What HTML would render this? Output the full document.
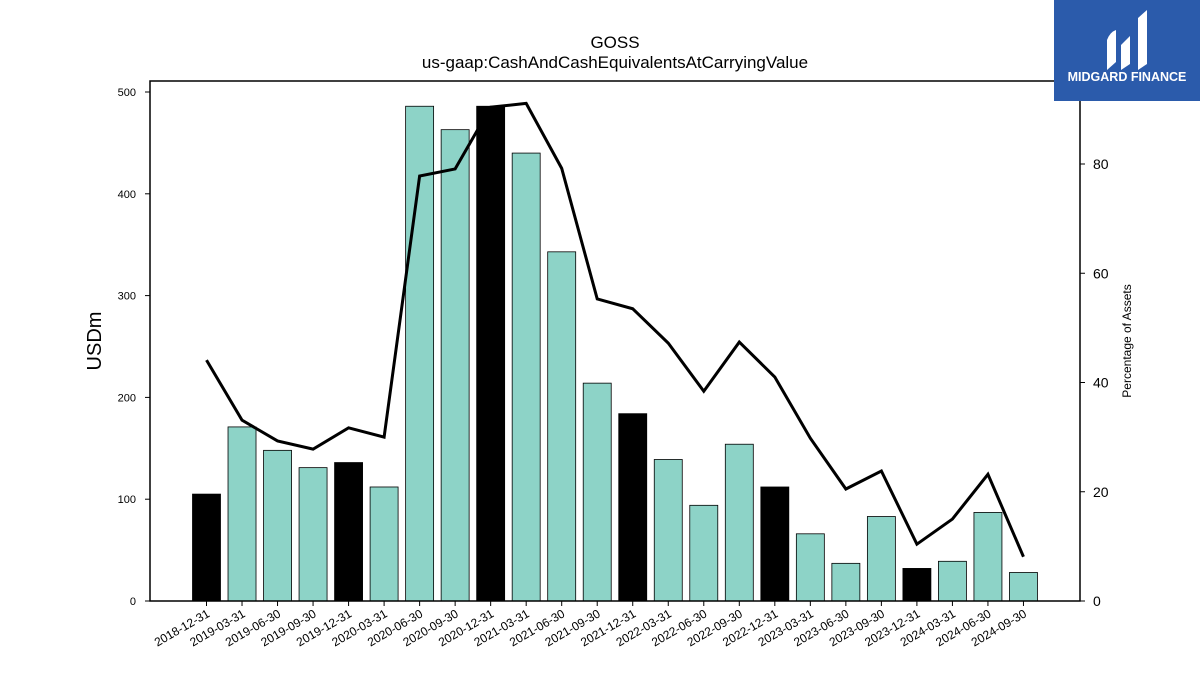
<!DOCTYPE html>
<html><head><meta charset="utf-8"><style>
body{margin:0;background:#fff;}
svg{display:block;font-family:"Liberation Sans","DejaVu Sans",sans-serif;}
</style></head><body>
<svg id="c" width="1200" height="675" viewBox="0 0 1200 675">
<text x="615" y="48" text-anchor="middle" font-size="17">GOSS</text>
<text x="615" y="68" text-anchor="middle" font-size="17">us-gaap:CashAndCashEquivalentsAtCarryingValue</text>
<g id="bars"></g>
<g id="line"></g>
<rect x="150" y="81" width="930" height="520" fill="none" stroke="#000" stroke-width="1.5"/>
<g id="axes"></g>
<text transform="translate(101,341) rotate(-90)" text-anchor="middle" font-size="20">USDm</text>
<text transform="translate(1131,341) rotate(-90)" text-anchor="middle" font-size="12">Percentage of Assets</text>
<g>
<rect x="1054" y="0" width="146" height="101" fill="#2b5bab"/>
<path d="M1107 70 L1107 40 Q1110 32 1116 30 L1116 62 Z M1121 70 L1121 45 L1130 36 L1130 64 Z M1138 70 L1138 18 L1147 10 L1147 64 Z" fill="#fff"/>
<text x="1127" y="81" text-anchor="middle" font-size="12.5" font-weight="bold" fill="#fff">MIDGARD FINANCE</text>
</g>
</svg>
<script>
const categories=["2018-12-31","2019-03-31","2019-06-30","2019-09-30","2019-12-31","2020-03-31","2020-06-30","2020-09-30","2020-12-31","2021-03-31","2021-06-30","2021-09-30","2021-12-31","2022-03-31","2022-06-30","2022-09-30","2022-12-31","2023-03-31","2023-06-30","2023-09-30","2023-12-31","2024-03-31","2024-06-30","2024-09-30"];
const cashValues=[105,171,148,131,136,112,486,463,486,440,343,214,184,139,94,154,112,66,37,83,32,39,87,28];
const pctValues=[44.1,33.1,29.3,27.8,31.7,30.0,77.8,79.1,90.4,91.1,79.2,55.3,53.5,47.2,38.4,47.4,41.0,29.8,20.5,23.8,10.4,15.0,23.2,8.1];
const leftTicks=[0,100,200,300,400,500];
const rightTicks=[0,20,40,60,80];
const NS="http://www.w3.org/2000/svg";
const x0=206.5,step=35.52,bw=28;
function xPos(i){return x0+i*step;}
function yL(v){return 601-v*1.018;}
function yR(v){return 601-v*5.4625;}
function mk(t,a,p){const e=document.createElementNS(NS,t);for(const k in a)e.setAttribute(k,a[k]);p.appendChild(e);return e;}
const bars=document.getElementById('bars'),axes=document.getElementById('axes'),line=document.getElementById('line');
cashValues.forEach((v,i)=>{
 const ye=categories[i].endsWith('12-31');
 const r=mk('rect',{x:xPos(i)-bw/2,y:yL(v),width:bw,height:601-yL(v),fill:ye?'#000':'#8dd3c7',stroke:'#000','stroke-width':0.8},bars);
 
 
 const t=mk('line',{x1:xPos(i),x2:xPos(i),y1:601,y2:606,stroke:'#000'},axes);
 
 
 const l=mk('text',{transform:`translate(${xPos(i)+4},616) rotate(-30)`,'text-anchor':'end','font-size':12},axes);
 l.textContent=categories[i];
 
 
});
const pl=mk('polyline',{points:pctValues.map((v,i)=>xPos(i)+','+yR(v)).join(' '),fill:'none',stroke:'#000','stroke-width':3},line);


leftTicks.forEach(v=>{
 const t=mk('line',{x1:145,x2:150,y1:yL(v),y2:yL(v),stroke:'#000'},axes);
 
 
 const l=mk('text',{x:136,y:yL(v)+4,'text-anchor':'end','font-size':11},axes);
 l.textContent=v;
 
 
});
rightTicks.forEach(v=>{
 const t=mk('line',{x1:1080,x2:1085,y1:yR(v),y2:yR(v),stroke:'#000'},axes);
 
 
 const l=mk('text',{x:1093,y:yR(v)+5,'font-size':14},axes);
 l.textContent=v;
 
 
});
</script>
</body></html>
